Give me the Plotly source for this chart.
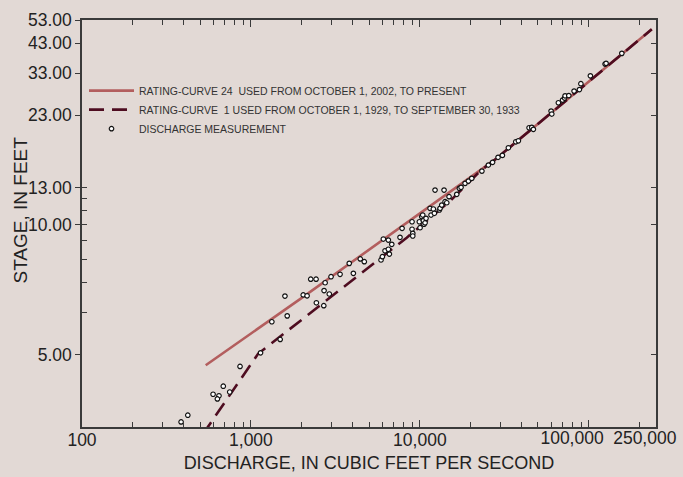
import plotly.graph_objects as go
import math

# ---------------- data ----------------
# Rating curve 24 (solid)
rc24_q = [540, 1953, 27600, 236000]
rc24_stage = [4.81, 6.42, 16.0, 48.7]

# Rating curve 1 (dashed)
rc1_q = [518, 1102, 8360, 15090, 22720, 27600, 236000]
rc1_stage = [3.93, 5.02, 9.17, 11.77, 14.70, 16.0, 48.7]

# Discharge measurements
meas_q = [423, 386, 597, 647, 633, 686, 749, 862, 1140, 1330, 1490, 1590, 1640,
          2040, 2150, 2260, 2430, 2750, 2710, 2910, 2440, 2700, 2980, 3370, 3820,
          4040, 4440, 4690, 5890, 6000, 6080, 6220, 6510, 6510, 6600, 6820,
          7630, 7850, 8990, 8990, 9080, 9080, 9930, 10030, 10260, 10400, 10490,
          10590, 10740, 10880, 11490, 11650, 12020, 12190, 12300, 13050, 13170,
          13480, 13910, 14100, 14430, 14890, 16540, 17140, 17540, 18520, 19380,
          20290, 23300, 25440, 26940, 29040, 30800, 33420, 36970, 38300, 44320,
          45970, 46990, 59820, 60390, 66070, 69980, 71900, 72400, 76150, 81850,
          88000, 89800, 102200, 124900, 126600, 156900]
meas_stage = [4.12, 4.05, 4.37, 4.35, 4.31, 4.48, 4.40, 4.79, 5.04, 5.75, 5.32, 6.52, 5.91,
              6.56, 6.53, 7.14, 7.14, 7.00, 6.71, 6.59, 6.30, 6.21, 7.24, 7.34, 7.82,
              7.38, 8.03, 7.90, 7.98, 8.14, 9.09, 8.44, 9.03, 8.52, 8.27, 8.79,
              9.19, 9.75, 10.19, 9.69, 9.43, 9.27, 10.19, 9.79, 10.55, 10.67, 10.26,
              10.02, 10.12, 10.43, 11.18, 10.67, 11.13, 10.80, 12.75, 11.05, 11.18,
              11.44, 12.75, 11.72, 11.63, 12.15, 12.36, 12.91, 13.01, 13.40, 13.63,
              13.91, 14.70, 15.40, 15.73, 16.36, 16.61, 17.64, 18.51, 18.66, 20.75,
              20.81, 20.48, 23.84, 23.25, 25.57, 26.16, 26.61, 27.13, 27.18, 28.25,
              28.62, 30.1, 32.23, 35.73, 35.96, 39.28]

# Stage axis is logarithmic in (stage - offset)
STAGE_OFFSET = 3.0
y_tick_stage = [5, 10, 13, 23, 33, 43, 53]
y_tick_labels = ["5.00", "10.00", "13.00", "23.00", "33.00", "43.00", "53.00"]
y_minor_stage = [6, 7, 8, 9, 10, 11, 12, 13]
y_min_stage, y_max_stage = 4.0, 53.0

# x ticks: marks at the decades; the two right-hand labels sit slightly left
x_tick_vals = [100, 1000, 10000, 100000, 250000]
x_tick_labels = ["100", "1,000", "10,000", "", ""]
x_shifted_label_pos = [79600, 214600]
x_shifted_labels = ["100,000", "250,000"]
x_minor_vals = [200, 300, 400, 500, 600, 700, 800, 900,
                2000, 3000, 4000, 5000, 6000, 7000, 8000, 9000,
                20000, 30000, 40000, 50000, 60000, 70000, 80000, 90000,
                200000]
x_min, x_max = 100, 250000

legend_labels = [
    "RATING-CURVE 24  USED FROM OCTOBER 1, 2002, TO PRESENT",
    "RATING-CURVE  1 USED FROM OCTOBER 1, 1929, TO SEPTEMBER 30, 1933",
    "DISCHARGE MEASUREMENT",
]

# ---------------- styling ----------------
BG = "#e2d9d5"
AXIS = "#3a3a3a"
TEXT = "#222222"
SOLID_C = "#b35e5e"
DASH_C = "#4e0c20"
FONT = "Liberation Sans, Arial, Helvetica, sans-serif"

# plot area sits at page x 82..656, y 20..427
L, T, R, B = 82, 20, 27, 50
LABEL_STANDOFF = -4


def sh(v):
    return [s - STAGE_OFFSET for s in v]


fig = go.Figure()
fig.add_trace(go.Scatter(x=rc24_q, y=sh(rc24_stage), mode="lines",
                         line=dict(color=SOLID_C, width=2.6),
                         name=legend_labels[0]))
fig.add_trace(go.Scatter(x=rc1_q, y=sh(rc1_stage), mode="lines",
                         line=dict(color=DASH_C, width=2.6, dash="15px,8px"),
                         name=legend_labels[1]))
fig.add_trace(go.Scatter(x=meas_q, y=sh(meas_stage), mode="markers",
                         marker=dict(symbol="circle", size=4.5, color="white",
                                     line=dict(color="#111111", width=1.2)),
                         name=legend_labels[2]))
# empty trace so the overlay axes (shifted labels / right-hand ticks) are drawn
fig.add_trace(go.Scatter(x=[], y=[], xaxis="x2", yaxis="y2", mode="lines",
                         showlegend=False, hoverinfo="skip"))

yr = [math.log10(y_min_stage - STAGE_OFFSET), math.log10(y_max_stage - STAGE_OFFSET)]
xr = [math.log10(x_min), math.log10(x_max)]
plot_h = 477 - T - B
plot_w = 683 - L - R

fig.update_layout(
    width=683, height=477,
    margin=dict(l=L, r=R, t=T, b=B, autoexpand=False),
    paper_bgcolor=BG, plot_bgcolor=BG,
    font=dict(family=FONT, color=TEXT, size=17.5),
    showlegend=True,
    legend=dict(x=0.0035, y=0.862, xanchor="left", yanchor="top",
                bgcolor="rgba(0,0,0,0)", font=dict(size=10.5, color="#333333"),
                itemwidth=45),
    xaxis=dict(
        type="log", range=xr,
        tickmode="array", tickvals=x_tick_vals, ticktext=x_tick_labels,
        tickangle=0, ticklabelstandoff=LABEL_STANDOFF,
        ticks="inside", ticklen=7, tickwidth=1.3, tickcolor=AXIS,
        showline=True, linecolor=AXIS, linewidth=1.5, mirror="ticks",
        showgrid=False, zeroline=False,
        tickfont=dict(size=17.5, color=TEXT),
        minor=dict(tickmode="array", tickvals=x_minor_vals, ticks="inside",
                   ticklen=5, tickwidth=1.3, tickcolor=AXIS, showgrid=False),
        title=dict(text="DISCHARGE, IN CUBIC FEET PER SECOND",
                   font=dict(size=18, color=TEXT), standoff=8),
    ),
    xaxis2=dict(
        type="log", range=xr, overlaying="x", side="bottom", anchor="y",
        tickmode="array", tickvals=x_shifted_label_pos, ticktext=x_shifted_labels,
        tickangle=0, ticklabelstandoff=LABEL_STANDOFF + 2, ticks="",
        showline=False, showgrid=False, zeroline=False,
        tickfont=dict(size=17.5, color=TEXT),
    ),
    yaxis=dict(
        type="log", range=yr,
        tickmode="array", tickvals=sh(y_tick_stage), ticktext=y_tick_labels,
        ticks="outside", ticklen=5, tickwidth=1.3, tickcolor=AXIS,
        showline=True, linecolor=AXIS, linewidth=1.5, mirror=True,
        showgrid=False, zeroline=False,
        tickfont=dict(size=17.5, color=TEXT),
        minor=dict(tickmode="array", tickvals=sh(y_minor_stage), ticks="inside",
                   ticklen=5, tickwidth=1.3, tickcolor=AXIS, showgrid=False),
    ),
    yaxis2=dict(
        type="log", range=yr, overlaying="y", side="right", anchor="x",
        tickmode="array", tickvals=sh(y_tick_stage), showticklabels=False,
        ticks="inside", ticklen=5, tickwidth=1.3, tickcolor=AXIS,
        showline=False, showgrid=False, zeroline=False,
    ),
    annotations=[dict(text="STAGE, IN FEET", textangle=-90,
                      xref="paper", yref="paper",
                      x=(19.5 - L) / plot_w, y=(427 - 210) / plot_h,
                      xanchor="center", yanchor="middle", showarrow=False,
                      font=dict(size=19, color=TEXT))],
)

# remove the page's default body margin so the figure fills the window
fig.write_html("out.html",
               config={"displayModeBar": False},
               post_script="document.body.style.margin='0';"
                           "document.body.style.background='" + BG + "';")
